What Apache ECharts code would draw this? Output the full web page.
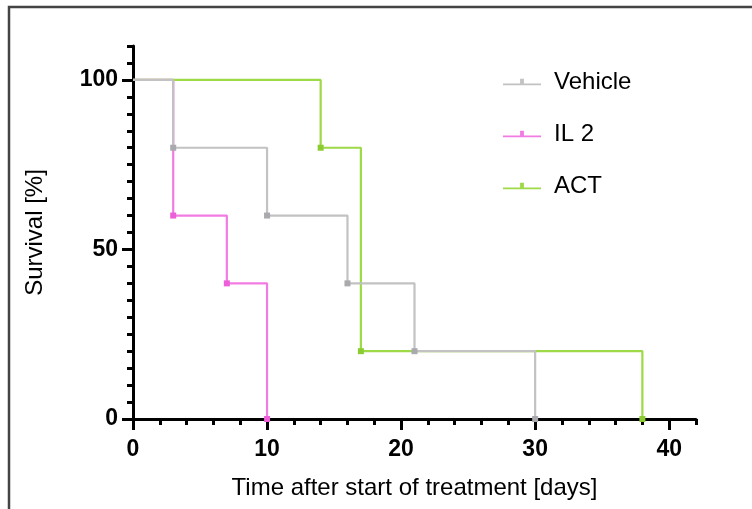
<!DOCTYPE html>
<html>
<head>
<meta charset="utf-8">
<script src="https://cdn.jsdelivr.net/npm/echarts@6/dist/echarts.min.js"></script>
<style>
  html, body { margin: 0; padding: 0; background: #fff; }
  #main { width: 752px; height: 509px; }
</style>
</head>
<body>
<div id="main"></div>
<script>
  // survival curves (Kaplan-Meier steps): [day, survival %]
  var vehicle = [[0, 100], [3, 80], [10, 60], [16, 40], [21, 20], [30, 0]];
  var il2 = [[0, 100], [3, 60], [7, 40], [10, 0]];
  var act = [[0, 100], [14, 80], [17, 20], [38, 0]];

  var seriesNames = ['Vehicle', 'IL 2', 'ACT'];
  var xMajorTicks = [0, 10, 20, 30, 40];
  var yMajorTicks = [0, 50, 100];

  var colors = ['#c2c2c2', '#f27be3', '#9ed947'];
  var markColors = ['#a9a9ae', '#ec5fd8', '#8ccc32'];
  // vehicle is drawn over the others
  var zOrder = [5, 3, 4];

  var font = '"Liberation Sans", Arial, Helvetica, sans-serif';
  var legendIcon = 'path://M0,9 L40,9 L40,11 L0,11 Z M18,4 L22,4 L22,10 L18,10 Z';

  var myChart = echarts.init(document.getElementById('main'));

  function stepSeries(name, data, i) {
    return {
      name: name,
      type: 'line',
      step: 'end',
      data: data,
      xAxisIndex: 0,
      yAxisIndex: 0,
      symbol: 'rect',
      // no mark on the starting point
      symbolSize: function (v, p) { return p.dataIndex === 0 ? 0 : 6; },
      itemStyle: { color: markColors[i] },
      lineStyle: { color: colors[i], width: 2.2 },
      z: zOrder[i]
    };
  }

  var axisFont = { fontFamily: font, fontWeight: 'bold', fontSize: 23, color: '#000' };

  var option = {
    backgroundColor: '#fff',
    animation: false,
    // the page frame around the chart
    graphic: [
      { type: 'rect', shape: { x: 9, y: 7, width: 760, height: 520 }, style: { fill: 'none', stroke: '#444', lineWidth: 2.5 }, z: 0 }
    ],
    grid: { left: 133, right: 56, top: 46, bottom: 90 },
    legend: {
      orient: 'vertical',
      left: 498,
      top: 65,
      itemGap: 28,
      itemWidth: 38,
      itemHeight: 12,
      data: seriesNames.map(function (n, i) {
        return { name: n, icon: legendIcon, itemStyle: { color: colors[i] } };
      }),
      textStyle: { fontFamily: font, fontSize: 24, color: '#000', padding: [0, 0, 0, 8] }
    },
    xAxis: [
      {
        type: 'value', min: 0, max: 42, interval: 2,
        axisLine: { lineStyle: { color: '#000', width: 3 } },
        axisTick: { length: 6, lineStyle: { color: '#000', width: 3 } },
        axisLabel: { show: false },
        splitLine: { show: false },
        name: 'Time after start of treatment [days]',
        nameLocation: 'middle',
        nameGap: 57,
        nameTextStyle: { fontFamily: font, fontSize: 24, color: '#000' }
      },
      {
        type: 'value', min: 0, max: 42, position: 'bottom',
        axisLine: { show: false },
        axisTick: { show: true, length: 11, customValues: xMajorTicks, lineStyle: { color: '#000', width: 3 } },
        axisLabel: Object.assign({ customValues: xMajorTicks, margin: 19 }, axisFont),
        splitLine: { show: false }
      }
    ],
    yAxis: [
      {
        type: 'value', min: 0, max: 110, interval: 5,
        axisLine: { show: true, lineStyle: { color: '#000', width: 3 } },
        axisTick: { show: true, length: 6, lineStyle: { color: '#000', width: 3 } },
        axisLabel: { show: false },
        splitLine: { show: false },
        name: 'Survival [%]',
        nameLocation: 'middle',
        nameGap: 86,
        nameTextStyle: { fontFamily: font, fontSize: 24, color: '#000' }
      },
      {
        type: 'value', min: 0, max: 110, position: 'left',
        axisLine: { show: false },
        axisTick: { show: true, length: 11, customValues: yMajorTicks, lineStyle: { color: '#000', width: 3 } },
        axisLabel: Object.assign({ customValues: yMajorTicks, margin: 15 }, axisFont),
        splitLine: { show: false }
      }
    ],
    series: [
      stepSeries(seriesNames[0], vehicle, 0),
      stepSeries(seriesNames[1], il2, 1),
      stepSeries(seriesNames[2], act, 2)
    ]
  };

  myChart.setOption(option);
</script>
</body>
</html>
